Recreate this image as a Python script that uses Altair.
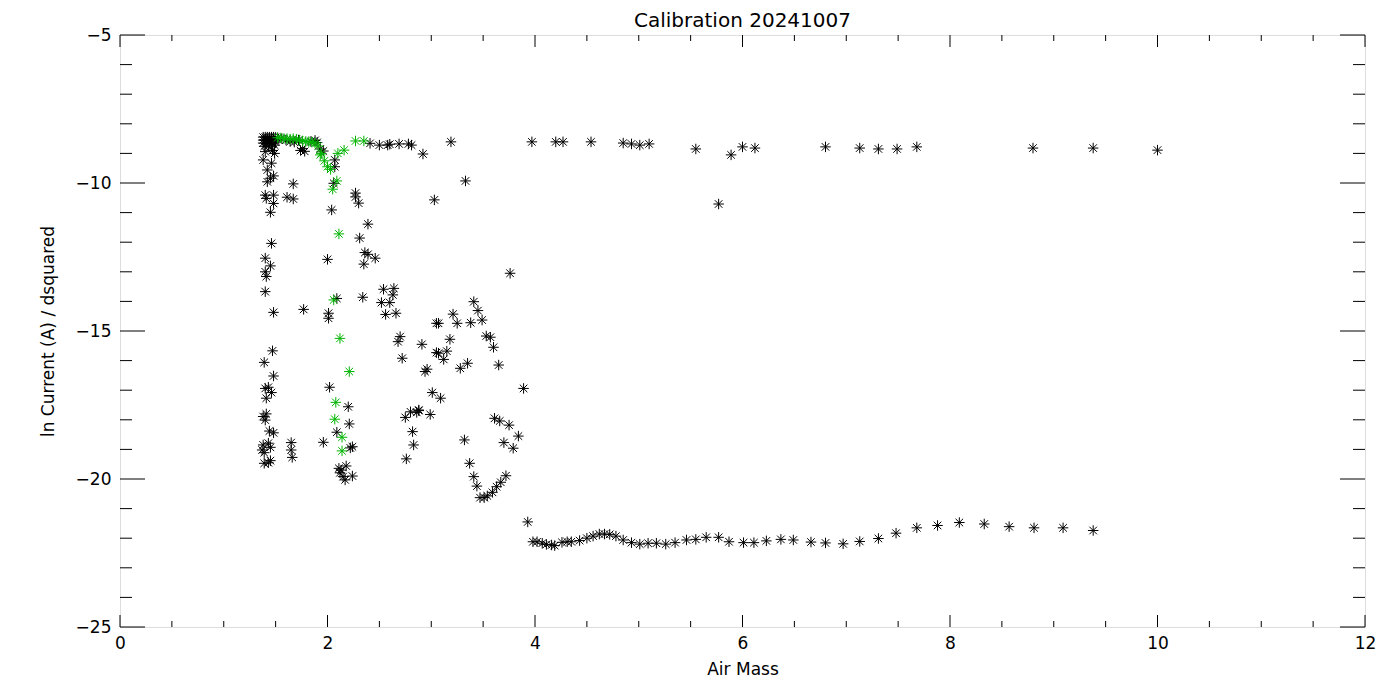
import altair as alt
import pandas as pd

# ---- data ----
black_x = [1.38, 1.40, 1.42, 1.44, 1.46, 1.48, 1.50, 1.52, 1.38, 1.40, 1.42, 1.44, 1.46, 1.48, 1.50,
           1.38, 1.41, 1.44, 1.47, 1.50, 1.39, 1.43, 1.46, 1.49, 1.56, 1.60, 1.64, 1.68, 1.72, 1.74,
           1.76, 1.78, 1.84, 1.88, 1.90, 1.93, 1.96, 1.40, 1.47, 1.49, 1.38, 1.46, 1.42, 1.48, 1.45,
           1.42, 2.07, 2.07, 2.06, 2.04, 1.67, 1.61, 1.67, 1.40, 1.41, 1.48, 1.48, 1.45,
           2.41, 2.50, 2.58, 2.60, 2.69, 2.78, 2.81, 2.92, 3.19, 3.97, 4.20, 4.27, 4.54, 4.85, 4.93,
           5.01, 5.10, 5.55, 5.89, 6.00, 6.12, 6.80, 7.13, 7.31, 7.49, 7.68, 8.80, 9.38, 10.00,
           3.33, 5.77, 3.03, 2.27, 2.27, 2.30, 2.39, 2.31,
           1.46, 1.40, 1.45, 1.40, 1.41, 2.00, 2.36, 2.39, 2.46, 2.35, 1.40, 1.48, 1.77, 2.09, 2.34,
           2.01, 2.01, 2.54, 2.64, 2.63, 2.52, 2.60, 2.56, 2.66, 1.47, 2.70, 2.68, 2.91, 3.05, 2.72,
           3.05, 1.39, 1.48, 1.40, 1.43, 1.46, 1.41, 1.38, 1.41, 1.40, 1.44, 1.48, 1.38, 1.43, 1.45,
           1.37, 1.39, 1.65, 1.65, 1.66, 1.39, 1.45, 1.43, 2.02, 2.20, 2.21, 2.09, 1.96, 2.24, 2.22,
           2.11, 2.18, 2.12, 2.15, 2.17, 2.24, 2.13, 2.94, 2.96, 3.01, 2.88, 2.80, 2.75, 2.99, 2.82,
           2.83, 2.76, 3.76, 3.41, 3.45, 3.21, 3.07, 3.25, 3.38, 3.49, 3.18, 3.53, 3.57, 3.60, 3.07,
           3.15, 3.12, 3.28, 3.35, 3.65, 3.89, 3.09, 2.86, 2.88, 3.61, 3.66, 3.75, 3.84, 3.70, 3.79,
           3.32, 3.37, 3.41, 3.44, 3.47, 3.51, 3.54, 3.59, 3.63, 3.67, 3.72, 3.93,
           3.98, 4.02, 4.07, 4.11, 4.16, 4.19, 4.26, 4.31, 4.35, 4.43, 4.50, 4.56, 4.62, 4.67, 4.72,
           4.78, 4.85, 4.93, 5.01, 5.09, 5.17, 5.26, 5.35, 5.46, 5.55, 5.65, 5.77, 5.87, 6.01, 6.11,
           6.23, 6.37, 6.49, 6.66, 6.80, 6.97, 7.13, 7.31, 7.48, 7.68, 7.88, 8.09, 8.33, 8.57, 8.81,
           9.09, 9.38]
black_y = [-8.45, -8.45, -8.45, -8.45, -8.45, -8.45, -8.46, -8.48, -8.55, -8.55, -8.55, -8.56, -8.55, -8.55, -8.56,
           -8.65, -8.66, -8.65, -8.64, -8.62, -8.76, -8.75, -8.78, -8.72, -8.50, -8.55, -8.60, -8.62, -8.55, -8.90,
           -8.84, -8.93, -8.60, -8.56, -8.63, -8.85, -8.92, -8.94, -8.90, -9.00, -9.22, -9.33, -9.56, -9.76, -9.84,
           -9.96, -9.22, -9.45, -10.01, -10.91, -10.03, -10.48, -10.54, -10.41, -10.52, -10.41, -10.69, -10.99,
           -8.66, -8.72, -8.72, -8.69, -8.68, -8.68, -8.72, -9.02, -8.61, -8.61, -8.61, -8.61, -8.61, -8.65, -8.68,
           -8.72, -8.68, -8.85, -9.05, -8.78, -8.82, -8.78, -8.82, -8.85, -8.85, -8.78, -8.82, -8.82, -8.89,
           -9.93, -10.71, -10.57, -10.34, -10.47, -10.68, -11.39, -11.86,
           -12.04, -12.54, -12.80, -13.00, -13.16, -12.58, -12.35, -12.41, -12.54, -12.74, -13.67, -14.37, -14.27, -13.90, -13.86,
           -14.40, -14.57, -13.59, -13.56, -13.78, -14.04, -14.04, -14.44, -14.40, -15.67, -15.19, -15.36, -15.45, -15.73, -15.92,
           -14.74, -16.06, -16.52, -16.94, -16.90, -17.08, -17.27, -17.89, -17.80, -18.01, -18.38, -18.44, -18.85, -18.79, -18.93,
           -19.02, -19.11, -18.77, -19.02, -19.27, -19.47, -19.38, -19.45, -16.90, -17.56, -18.14, -18.42, -18.76, -18.91, -18.95,
           -19.64, -19.56, -19.79, -19.92, -20.03, -19.90, -19.70, -16.37, -16.29, -17.08, -17.69, -17.73, -17.92, -17.82, -18.40,
           -18.85, -19.32, -13.05, -14.01, -14.31, -14.43, -14.74, -14.74, -14.72, -14.63, -15.28, -15.17, -15.21, -15.55, -15.75,
           -15.68, -15.96, -16.26, -16.09, -16.15, -16.94, -17.27, -17.75, -17.67, -17.95, -18.04, -18.18, -18.55, -18.77, -18.96,
           -18.68, -19.47, -19.92, -20.24, -20.63, -20.63, -20.57, -20.45, -20.26, -20.11, -19.89, -21.45,
           -22.12, -22.12, -22.17, -22.21, -22.23, -22.25, -22.14, -22.12, -22.12, -22.08, -22.00, -21.93, -21.86, -21.86, -21.87,
           -21.93, -22.06, -22.15, -22.20, -22.17, -22.17, -22.20, -22.15, -22.06, -22.04, -21.97, -21.97, -22.12, -22.15, -22.15,
           -22.09, -22.04, -22.06, -22.13, -22.16, -22.19, -22.11, -22.01, -21.83, -21.65, -21.57, -21.47, -21.52, -21.61, -21.65,
           -21.65, -21.74]

green_x = [1.52, 1.55, 1.58, 1.61, 1.64, 1.67, 1.70, 1.73, 1.76, 1.79, 1.82, 1.85, 1.88, 1.91, 1.94,
           1.93, 1.97, 2.00, 2.03, 2.10, 2.16, 2.27, 2.35, 2.09, 2.05, 2.11, 2.06, 2.12, 2.21, 2.08,
           2.07, 2.14, 2.14]
green_y = [-8.47, -8.48, -8.50, -8.50, -8.52, -8.50, -8.52, -8.55, -8.58, -8.60, -8.60, -8.62, -8.65, -8.75, -9.00,
           -9.05, -9.25, -9.45, -9.54, -9.00, -8.89, -8.58, -8.58, -9.93, -10.21, -11.72, -13.95, -15.25, -16.37, -17.41,
           -17.98, -18.59, -19.05]

x_major = [0, 2, 4, 6, 8, 10, 12]
x_minor = [0.5, 1, 1.5, 2.5, 3, 3.5, 4.5, 5, 5.5, 6.5, 7, 7.5, 8.5, 9, 9.5, 10.5, 11, 11.5]
y_major = [-25, -20, -15, -10, -5]
y_minor = [-24, -23, -22, -21, -19, -18, -17, -16, -14, -13, -12, -11, -9, -8, -7, -6]

W, H = 1245, 592
FONT = "DejaVu Sans"

pts = pd.DataFrame(
    {"x": black_x + green_x,
     "y": black_y + green_y,
     "series": ["black"] * len(black_x) + ["green"] * len(green_x)}
)

xs = alt.Scale(domain=[0, 12], nice=False, zero=False)
ys = alt.Scale(domain=[-25, -5], nice=False, zero=False)

ASTER = "M-1,0L1,0M0,-1L0,1M-0.72,-0.72L0.72,0.72M-0.72,0.72L0.72,-0.72"

points = alt.Chart(pts).mark_point(
    shape=ASTER, filled=False, strokeWidth=1, size=110, opacity=1
).encode(
    x=alt.X("x:Q", scale=xs,
            axis=alt.Axis(values=x_major, format="d", ticks=False, domain=False, grid=False,
                          labelFlush=False, labelOverlap=False,
                          labelFontSize=17, labelFont=FONT, labelColor="#000",
                          labelPadding=8, title="Air Mass", titleFont=FONT,
                          titleFontSize=17, titleFontWeight="normal", titleColor="#000",
                          titlePadding=10)),
    y=alt.Y("y:Q", scale=ys,
            axis=alt.Axis(values=y_major, format="d", ticks=False, domain=False, grid=False,
                          labelFlush=False, labelOverlap=False,
                          labelFontSize=17, labelFont=FONT, labelColor="#000",
                          labelPadding=9, title="ln Current (A) / dsquared", titleFont=FONT,
                          titleFontSize=17, titleFontWeight="normal", titleColor="#000",
                          titlePadding=18)),
    color=alt.Color("series:N",
                    scale=alt.Scale(domain=["black", "green"], range=["#000000", "#00b400"]),
                    legend=None),
    order=alt.Order("series:N"),
)

def xticks(vals, length):
    d = pd.DataFrame({"v": vals})
    bottom = alt.Chart(d).mark_rule(color="#000", strokeWidth=1).encode(
        x=alt.X("v:Q", scale=xs), y=alt.value(H), y2=alt.value(H - length))
    top = alt.Chart(d).mark_rule(color="#000", strokeWidth=1).encode(
        x=alt.X("v:Q", scale=xs), y=alt.value(0), y2=alt.value(length))
    return [bottom, top]

def yticks(vals, length):
    d = pd.DataFrame({"v": vals})
    left = alt.Chart(d).mark_rule(color="#000", strokeWidth=1).encode(
        y=alt.Y("v:Q", scale=ys), x=alt.value(0), x2=alt.value(length))
    right = alt.Chart(d).mark_rule(color="#000", strokeWidth=1).encode(
        y=alt.Y("v:Q", scale=ys), x=alt.value(W), x2=alt.value(W - length))
    return [left, right]

layers = xticks(x_major, 12) + xticks(x_minor, 6) + yticks(y_major, 25) + yticks(y_minor, 12) + [points]

chart = alt.layer(*layers).properties(
    width=W, height=H,
    title=alt.Title("Calibration 20241007", font=FONT, fontSize=20, fontWeight="normal",
                    color="#000", offset=-5),
    autosize=alt.AutoSizeParams(type="none"),
    padding={"left": 112, "top": 27, "right": 20, "bottom": 50},
).configure_view(stroke="#000", strokeWidth=1).configure(background="white")

chart.save("out.html", embed_options={"renderer": "svg", "actions": False})
